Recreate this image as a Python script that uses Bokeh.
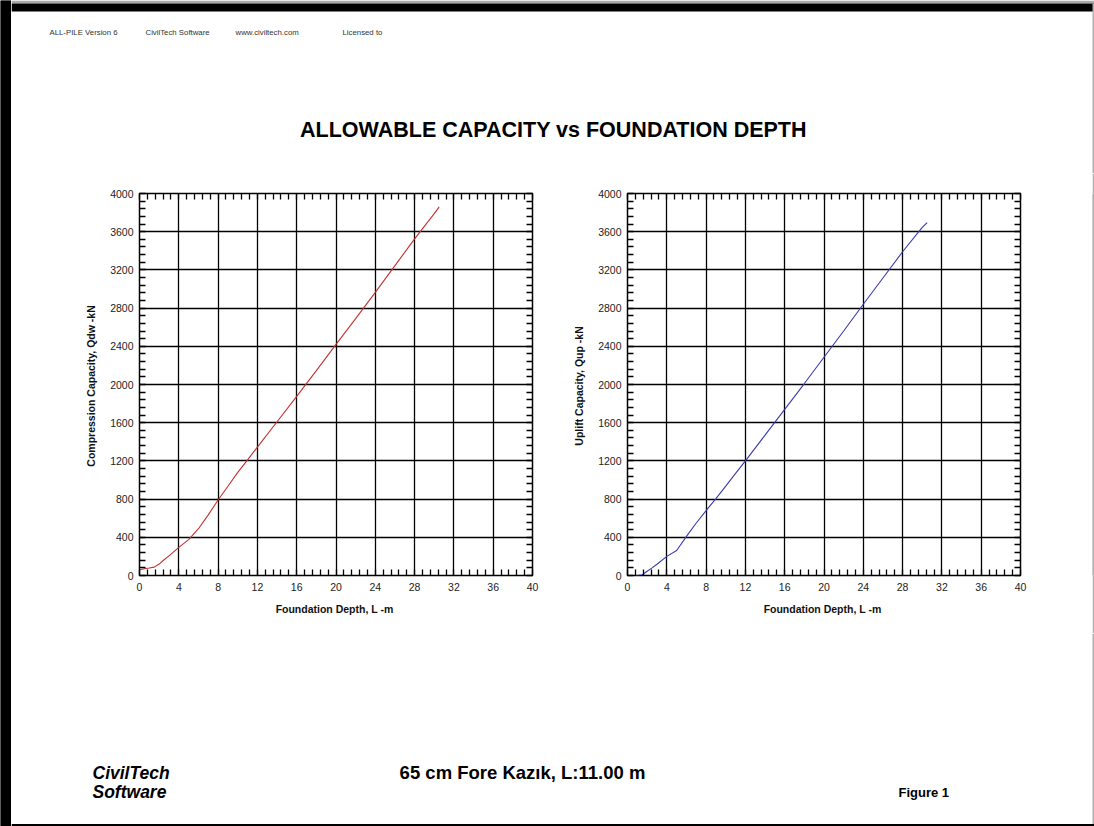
from bokeh.plotting import figure
from bokeh.layouts import column, row
from bokeh.models import Range1d, LinearAxis, SingleIntervalTicker, FixedTicker
from bokeh.core.properties import value
from bokeh.embed import file_html
from bokeh.resources import INLINE

# ---------------- data ----------------
comp_depth = [0, 0.5, 1.0, 1.5, 2.0, 2.5, 3.0, 4.0, 5.0, 6.0, 7.0, 8.0, 9.0, 10.0, 11.0,
              12.0, 14.0, 16.0, 18.0, 20.0, 22.0, 24.0, 26.0, 28.0, 30.0, 30.5]
comp_cap = [60, 70, 78, 88, 120, 165, 205, 295, 375, 490, 635, 790, 935, 1080, 1210,
            1345, 1610, 1875, 2145, 2420, 2690, 2965, 3245, 3525, 3790, 3860]

upl_depth = [0.85, 1.0, 1.5, 2.0, 2.5, 3.0, 4.0, 5.0, 6.0, 7.0, 8.0, 9.0, 10.0, 11.0,
             12.0, 14.0, 16.0, 18.0, 20.0, 22.0, 24.0, 26.0, 28.0, 30.0, 30.5]
upl_cap = [0, 0, 8, 45, 80, 118, 200, 262, 410, 550, 680, 805, 935, 1070,
           1200, 1470, 1740, 2010, 2285, 2560, 2840, 3115, 3390, 3645, 3695]

x_ticks_interval = 4
y_ticks_interval = 400
x_minor = [i * 0.8 for i in range(51)]
y_minor = [i * 80 for i in range(51)]

header_texts = ["ALL-PILE Version 6", "CivilTech Software", "www.civiltech.com", "Licensed to"]
title_text = "ALLOWABLE CAPACITY vs FOUNDATION DEPTH"
footer_title = "65 cm Fore Kazık, L:11.00 m"

FONT = "Liberation Sans"


def blank(w, h, x0, x1, y0, y1, bg="white"):
    p = figure(width=w, height=h, x_range=Range1d(x0, x1), y_range=Range1d(y1, y0),
               output_backend="svg", toolbar_location=None,
               x_axis_location=None, y_axis_location=None, min_border=0)
    p.min_border_left = p.min_border_right = p.min_border_top = p.min_border_bottom = 0
    p.grid.visible = False
    p.outline_line_color = None
    p.background_fill_color = bg
    p.border_fill_color = bg
    return p


# ---------------- header ----------------
H_TOP = 173
hdr = blank(1083, H_TOP, 11, 1094, 0, H_TOP)
hdr.quad(left=[11], right=[1094], top=[0], bottom=[3], color="#a8a8a8", line_color=None)
hdr.quad(left=[11], right=[1094], top=[3], bottom=[11], color="black", line_color=None)
hdr.quad(left=[1092], right=[1094], top=[3], bottom=[H_TOP], color="#b0b0b0", line_color=None)
hdr.text(x=[49, 145, 235, 342], y=[32, 32, 32, 32], text=header_texts,
         text_font=value(FONT), text_font_size="7.8px", text_color="#333333",
         text_baseline="middle", text_align="left")
hdr.text(x=[553], y=[129], text=[title_text], text_font=value(FONT),
         text_font_size="21.5px", text_font_style="bold", text_color="black",
         text_baseline="middle", text_align="center")


# ---------------- charts ----------------
def chart(xs, ys, color, ylabel, w, mbl, mbr):
    p = figure(width=w, height=460, x_range=Range1d(0, 40), y_range=Range1d(0, 4000),
               output_backend="svg", toolbar_location=None,
               min_border_left=mbl, min_border_right=mbr,
               min_border_top=20, min_border_bottom=58)
    p.background_fill_color = "white"
    p.border_fill_color = "white"
    p.outline_line_color = "black"
    p.outline_line_width = 1.5
    xt = SingleIntervalTicker(interval=x_ticks_interval, num_minor_ticks=5)
    yt = SingleIntervalTicker(interval=y_ticks_interval, num_minor_ticks=5)
    xa = p.below[0]
    ya = p.left[0]
    xa.ticker = xt
    ya.ticker = yt
    p.xgrid.ticker = xt
    p.ygrid.ticker = yt
    p.grid.grid_line_color = "black"
    p.grid.grid_line_width = 1.3
    p.grid.grid_line_alpha = 1.0

    top_ax = LinearAxis(ticker=FixedTicker(ticks=[], minor_ticks=x_minor))
    right_ax = LinearAxis(ticker=FixedTicker(ticks=[], minor_ticks=y_minor))
    p.add_layout(top_ax, "above")
    p.add_layout(right_ax, "right")
    for ax in [xa, ya, top_ax, right_ax]:
        ax.axis_line_color = None
        ax.major_tick_in = 0
        ax.major_tick_out = 0
        ax.minor_tick_in = 6
        ax.minor_tick_out = 0
        ax.minor_tick_line_color = "black"
        ax.minor_tick_line_width = 1.3
        ax.major_label_text_font = FONT
        ax.major_label_text_font_size = "10.5px"
        ax.major_label_text_color = "#222222"
        ax.axis_label_text_font = FONT
        ax.axis_label_text_font_size = "10.5px"
        ax.axis_label_text_font_style = "bold"
        ax.axis_label_text_color = "#111111"
    top_ax.major_label_standoff = 0
    right_ax.major_label_standoff = 0
    xa.axis_label = "Foundation Depth,  L -m"
    xa.major_label_standoff = 7
    xa.axis_label_standoff = 9
    ya.axis_label = ylabel
    ya.major_label_standoff = 6
    ya.axis_label_standoff = 10
    p.line(xs, ys, line_color=color, line_width=1.1)
    return p


left = chart(comp_depth, comp_cap, "#c43030", "Compression Capacity,  Qdw -kN", 559, 128, 38)
right = chart(upl_depth, upl_cap, "#3a3ab0", "Uplift Capacity,  Qup -kN", 522, 57, 72)

rline = blank(2, 460, 0, 2, 0, 460, bg="#b0b0b0")
rline.quad(left=[0], right=[2], top=[0], bottom=[460], color="#b0b0b0", line_color=None)

mid = row(left, right, rline, spacing=0)

# ---------------- footer ----------------
F_Y0 = 633
ftr = blank(1083, 826 - F_Y0, 11, 1094, F_Y0, 826)
ftr.quad(left=[1092], right=[1094], top=[F_Y0], bottom=[826], color="#b0b0b0", line_color=None)
ftr.quad(left=[11], right=[1094], top=[823.5], bottom=[826], color="black", line_color=None)
ftr.text(x=[92, 92], y=[772, 791], text=["CivilTech", "Software"], text_font=value(FONT),
         text_font_size="17.5px", text_font_style="bold italic", text_color="black",
         text_baseline="middle", text_align="left")
ftr.text(x=[522], y=[772], text=[footer_title], text_font=value(FONT),
         text_font_size="18.5px", text_font_style="bold", text_color="black",
         text_baseline="middle", text_align="center")
ftr.text(x=[898], y=[792], text=["Figure 1"], text_font=value(FONT),
         text_font_size="13px", text_font_style="bold", text_color="black",
         text_baseline="middle", text_align="left")

lband = blank(11, 826, 0, 11, 0, 826, bg="black")
lband.quad(left=[0], right=[11], top=[0], bottom=[826], color="black", line_color=None)

page = row(lband, column(hdr, mid, ftr, spacing=0), spacing=0)

open("out.html", "w").write(file_html(page, INLINE))
